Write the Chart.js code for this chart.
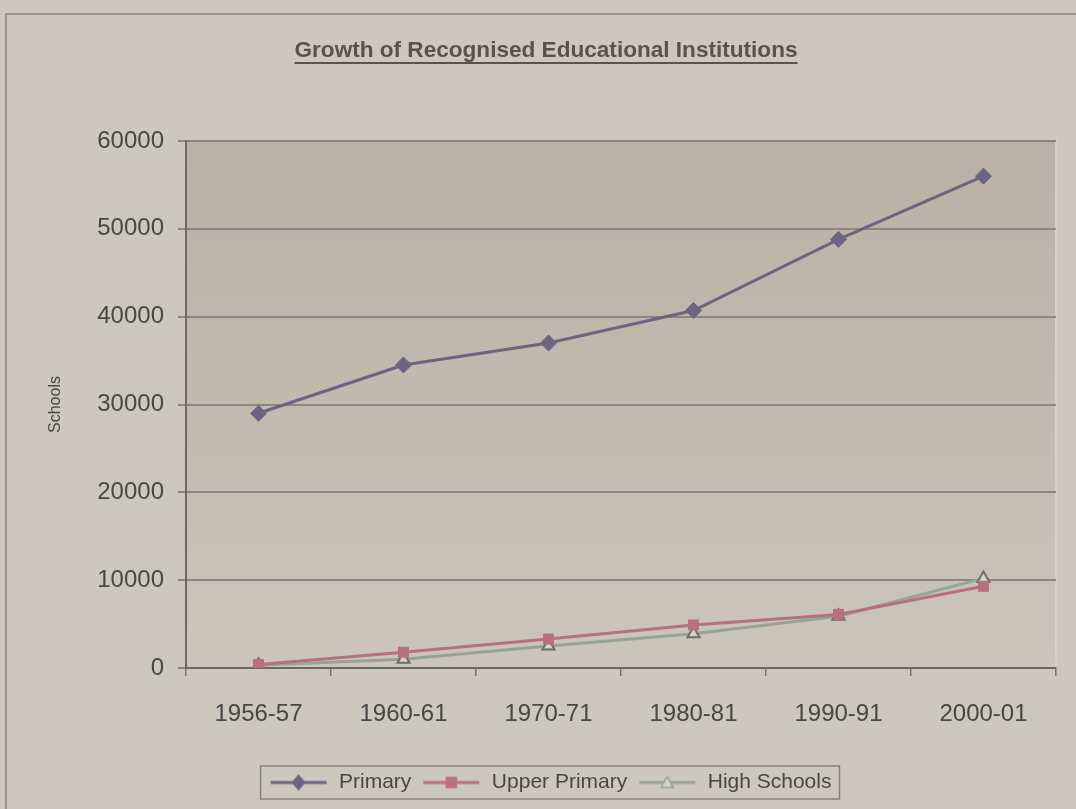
<!DOCTYPE html>
<html>
<head>
<meta charset="utf-8">
<script src="https://cdn.jsdelivr.net/npm/chart.js@4"></script>
<style>
  html, body { margin: 0; padding: 0; background: #cdc8bd; }
  #wrap { width: 1076px; height: 809px; position: relative; }
</style>
</head>
<body>
<div id="wrap"><canvas id="chart" width="1076" height="809"></canvas></div>
<script>
// --- Data ---
const years = ['1956-57', '1960-61', '1970-71', '1980-81', '1990-91', '2000-01'];
const primary = [29000, 34500, 37000, 40700, 48800, 56000];
const upperPrimary = [400, 1800, 3300, 4900, 6100, 9300];
const highSchools = [300, 1000, 2500, 3900, 5900, 10200];
const yTicks = [0, 10000, 20000, 30000, 40000, 50000, 60000];

const FONT = "'Liberation Sans', Arial, sans-serif";
const TEXT = '#4a4646';

// legend swatch: line with the series marker on it
function swatch(color, fill, shape) {
    const c = document.createElement('canvas');
    c.width = 60; c.height = 18;
    const g = c.getContext('2d');
    g.strokeStyle = color; g.lineWidth = 3;
    g.beginPath(); g.moveTo(2, 9); g.lineTo(58, 9); g.stroke();
    g.fillStyle = fill; g.strokeStyle = color; g.lineWidth = 1.5;
    g.beginPath();
    if (shape === 'diamond') {
        g.moveTo(30, 2); g.lineTo(36, 9); g.lineTo(30, 16); g.lineTo(24, 9);
    } else if (shape === 'square') {
        g.rect(25, 4, 10, 10);
    } else {
        g.moveTo(30, 3); g.lineTo(36, 14); g.lineTo(24, 14);
    }
    g.closePath(); g.fill(); g.stroke();
    return c;
}

const swatches = [
    swatch('#6c6580', '#6c6580', 'diamond'),
    swatch('#b8707c', '#b8707c', 'square'),
    swatch('#98a492', '#d4d2c4', 'triangle')
];

// --- Page background, frame, title, legend box ---
const decor = {
    id: 'decor',
    beforeDraw(chart) {
        const { ctx, chartArea: a } = chart;
        ctx.save();
        ctx.fillStyle = '#cdc8bd';
        ctx.fillRect(0, 0, chart.width, chart.height);
        // outer frame
        ctx.strokeStyle = '#8a8478';
        ctx.lineWidth = 1.5;
        ctx.strokeRect(6, 14, chart.width + 10, chart.height + 10);
        // plot area
        const grad = ctx.createLinearGradient(0, a.top, 0, a.bottom);
        grad.addColorStop(0, '#b9b1a5');
        grad.addColorStop(0.55, '#c2bbb0');
        grad.addColorStop(1, '#cbc5ba');
        ctx.fillStyle = grad;
        ctx.fillRect(a.left, a.top, a.right - a.left, a.bottom - a.top);
        ctx.strokeStyle = '#d6d1c8';
        ctx.lineWidth = 2;
        ctx.beginPath();
        ctx.moveTo(a.left, a.top); ctx.lineTo(a.right, a.top); ctx.lineTo(a.right, a.bottom);
        ctx.stroke();
        ctx.restore();
    },
    afterDraw(chart) {
        const { ctx } = chart;
        ctx.save();
        // title, condensed bold, underlined
        const title = 'Growth of Recognised Educational Institutions';
        ctx.font = 'bold 22px ' + FONT;
        const w = ctx.measureText(title).width;
        const targetW = 503;
        const cx = 546, cy = 51;
        ctx.translate(cx, cy);
        ctx.scale(targetW / w, 1);
        ctx.fillStyle = '#595251';
        ctx.textAlign = 'center';
        ctx.textBaseline = 'middle';
        ctx.fillText(title, 0, 0);
        ctx.restore();
        ctx.save();
        ctx.fillStyle = '#595251';
        ctx.fillRect(cx - targetW / 2, 62, targetW, 2);
        // legend border
        const boxes = chart.legend.legendHitBoxes;
        if (boxes && boxes.length) {
            const l = Math.min(...boxes.map(b => b.left)) - 8;
            const r = Math.max(...boxes.map(b => b.left + b.width)) + 8;
            const t = Math.min(...boxes.map(b => b.top)) - 6;
            const bt = Math.max(...boxes.map(b => b.top + b.height)) + 6;
            ctx.strokeStyle = '#8a8478';
            ctx.lineWidth = 1.5;
            ctx.strokeRect(l, t, r - l, bt - t);
        }
        ctx.restore();
    }
};

new Chart(document.getElementById('chart'), {
    type: 'line',
    data: {
        labels: years,
        datasets: [
            {
                label: 'Primary',
                data: primary,
                borderColor: '#6c6580',
                backgroundColor: '#6c6580',
                borderWidth: 3,
                pointStyle: 'rectRot',
                pointRadius: 8,
                pointBorderWidth: 1
            },
            {
                label: 'Upper Primary',
                data: upperPrimary,
                borderColor: '#b8707c',
                backgroundColor: '#b8707c',
                borderWidth: 3,
                pointStyle: 'rect',
                pointRadius: 7,
                pointBorderWidth: 1
            },
            {
                label: 'High Schools',
                data: highSchools,
                borderColor: '#98a492',
                backgroundColor: '#d4d2c4',
                pointBorderColor: '#6e6c64',
                borderWidth: 3,
                pointStyle: 'triangle',
                pointRadius: 7,
                pointBorderWidth: 2
            }
        ]
    },
    options: {
        responsive: false,
        animation: false,
        layout: { padding: { top: 141, right: 20, left: 44, bottom: 6 } },
        plugins: {
            title: { display: false },
            tooltip: { enabled: false },
            legend: {
                position: 'bottom',
                labels: {
                    usePointStyle: true,
                    pointStyleWidth: 60,
                    padding: 10,
                    color: TEXT,
                    font: { family: FONT, size: 21 },
                    generateLabels(chart) {
                        return chart.data.datasets.map((ds, i) => ({
                            text: ds.label,
                            pointStyle: swatches[i],
                            fontColor: TEXT,
                            datasetIndex: i,
                            lineWidth: 0,
                            hidden: false
                        }));
                    }
                }
            }
        },
        scales: {
            x: {
                offset: true,
                grid: {
                    offset: true,
                    drawOnChartArea: false,
                    drawTicks: true,
                    tickLength: 8,
                    color: '#7a746c',
                    lineWidth: 1.5
                },
                border: { color: '#6e6860', width: 2 },
                ticks: {
                    color: TEXT,
                    font: { family: FONT, size: 24 },
                    padding: 24,
                    maxRotation: 0
                },
                afterFit(scale) { scale.height = 94; }
            },
            y: {
                min: 0,
                max: 60000,
                afterBuildTicks(scale) { scale.ticks = yTicks.map(v => ({ value: v })); },
                grid: {
                    color: '#8c867c',
                    lineWidth: 2,
                    tickLength: 8
                },
                border: { color: '#6e6860', width: 2 },
                ticks: {
                    color: TEXT,
                    font: { family: FONT, size: 24 },
                    padding: 14,
                    callback: v => String(v)
                },
                title: {
                    display: true,
                    text: 'Schools',
                    color: TEXT,
                    font: { family: FONT, size: 16 },
                    padding: { top: 2, bottom: 0 }
                },
                afterFit(scale) { scale.width = 142; }
            }
        }
    },
    plugins: [decor]
});
</script>
</body>
</html>
